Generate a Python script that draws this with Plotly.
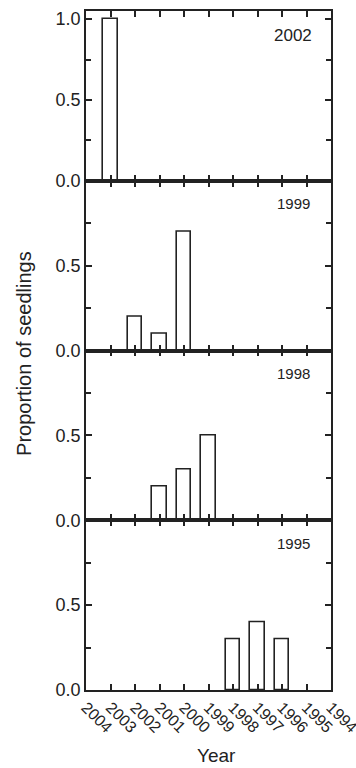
import plotly.graph_objects as go
from plotly.subplots import make_subplots

# ---- data ----
years = [2004, 2003, 2002, 2001, 2000, 1999, 1998, 1997, 1996, 1995, 1994]
year_labels = [str(y) for y in years]
cohorts = ["2002", "1999", "1998", "1995"]

c2002_years = [2003]
c2002_vals = [1.0]
c1999_years = [2002, 2001, 2000]
c1999_vals = [0.2, 0.1, 0.7]
c1998_years = [2001, 2000, 1999]
c1998_vals = [0.2, 0.3, 0.5]
c1995_years = [1998, 1997, 1996]
c1995_vals = [0.3, 0.4, 0.3]

panel_years = [c2002_years, c1999_years, c1998_years, c1995_years]
panel_vals = [c2002_vals, c1999_vals, c1998_vals, c1995_vals]

INK = "#222222"
FONT = "Liberation Sans, Arial, sans-serif"

fig = make_subplots(rows=4, cols=1, shared_xaxes=True, vertical_spacing=0)

for i, (xs, ys) in enumerate(zip(panel_years, panel_vals)):
    r = i + 1
    fig.add_trace(
        go.Bar(x=xs, y=ys, width=0.6,
               marker=dict(color="white", line=dict(color=INK, width=1.6)),
               showlegend=False, hoverinfo="skip"),
        row=r, col=1)
    top = 1.05 if r == 1 else 1.0
    tvals = [0, 0.5, 1.0] if r == 1 else [0, 0.5]
    fig.update_yaxes(
        range=[0, top], tickvals=tvals, ticktext=[f"{v:.1f}" for v in tvals],
        ticks="inside", ticklen=6, tickwidth=1.5, tickcolor=INK,
        minor=dict(tickvals=[0.25, 0.75], ticks="inside", ticklen=5, tickwidth=1.5, tickcolor=INK),
        showline=True, linecolor=INK, linewidth=1.6, mirror="ticks",
        showgrid=False, zeroline=False, automargin=False,
        tickfont=dict(size=18, color=INK, family=FONT),
        row=r, col=1)
    fig.update_xaxes(
        range=[2004, 1994], tickvals=years,
        ticktext=year_labels if r == 4 else [""] * len(years),
        showticklabels=(r == 4),
        ticks="inside", ticklen=6, tickwidth=1.5, tickcolor=INK,
        showline=True, linecolor=INK, linewidth=1.6, mirror="ticks",
        showgrid=False, zeroline=False, automargin=False,
        tickangle=45, ticklabeloverflow="allow",
        tickfont=dict(size=16, color=INK, family=FONT),
        row=r, col=1)
    fig.add_annotation(
        text=cohorts[i], xref="x domain" if r == 1 else f"x{r} domain",
        yref="y domain" if r == 1 else f"y{r} domain",
        x=0.845, y=1 - 25 / 170 if r == 1 else 1 - 23 / 170,
        xanchor="center", yanchor="middle", showarrow=False,
        font=dict(size=17 if r == 1 else 15, color=INK, family=FONT))

fig.add_annotation(text="Proportion of seedlings", xref="paper", yref="paper",
                   x=-0.253, y=0.495, textangle=-90, showarrow=False,
                   xanchor="center", yanchor="middle",
                   font=dict(size=20, color=INK, family=FONT))
fig.add_annotation(text="Year", xref="paper", yref="paper",
                   x=0.531, y=-0.097, showarrow=False,
                   xanchor="center", yanchor="middle",
                   font=dict(size=19, color=INK, family=FONT))

fig.update_layout(
    width=356, height=768,
    margin=dict(l=86, r=25, t=11, b=78, autoexpand=False),
    plot_bgcolor="white", paper_bgcolor="white",
    bargap=0, showlegend=False,
)

fig.write_html("out.html", config={"displayModeBar": False},
               post_script="document.body.style.margin='0';document.body.style.padding='0';document.body.style.overflow='hidden';")
